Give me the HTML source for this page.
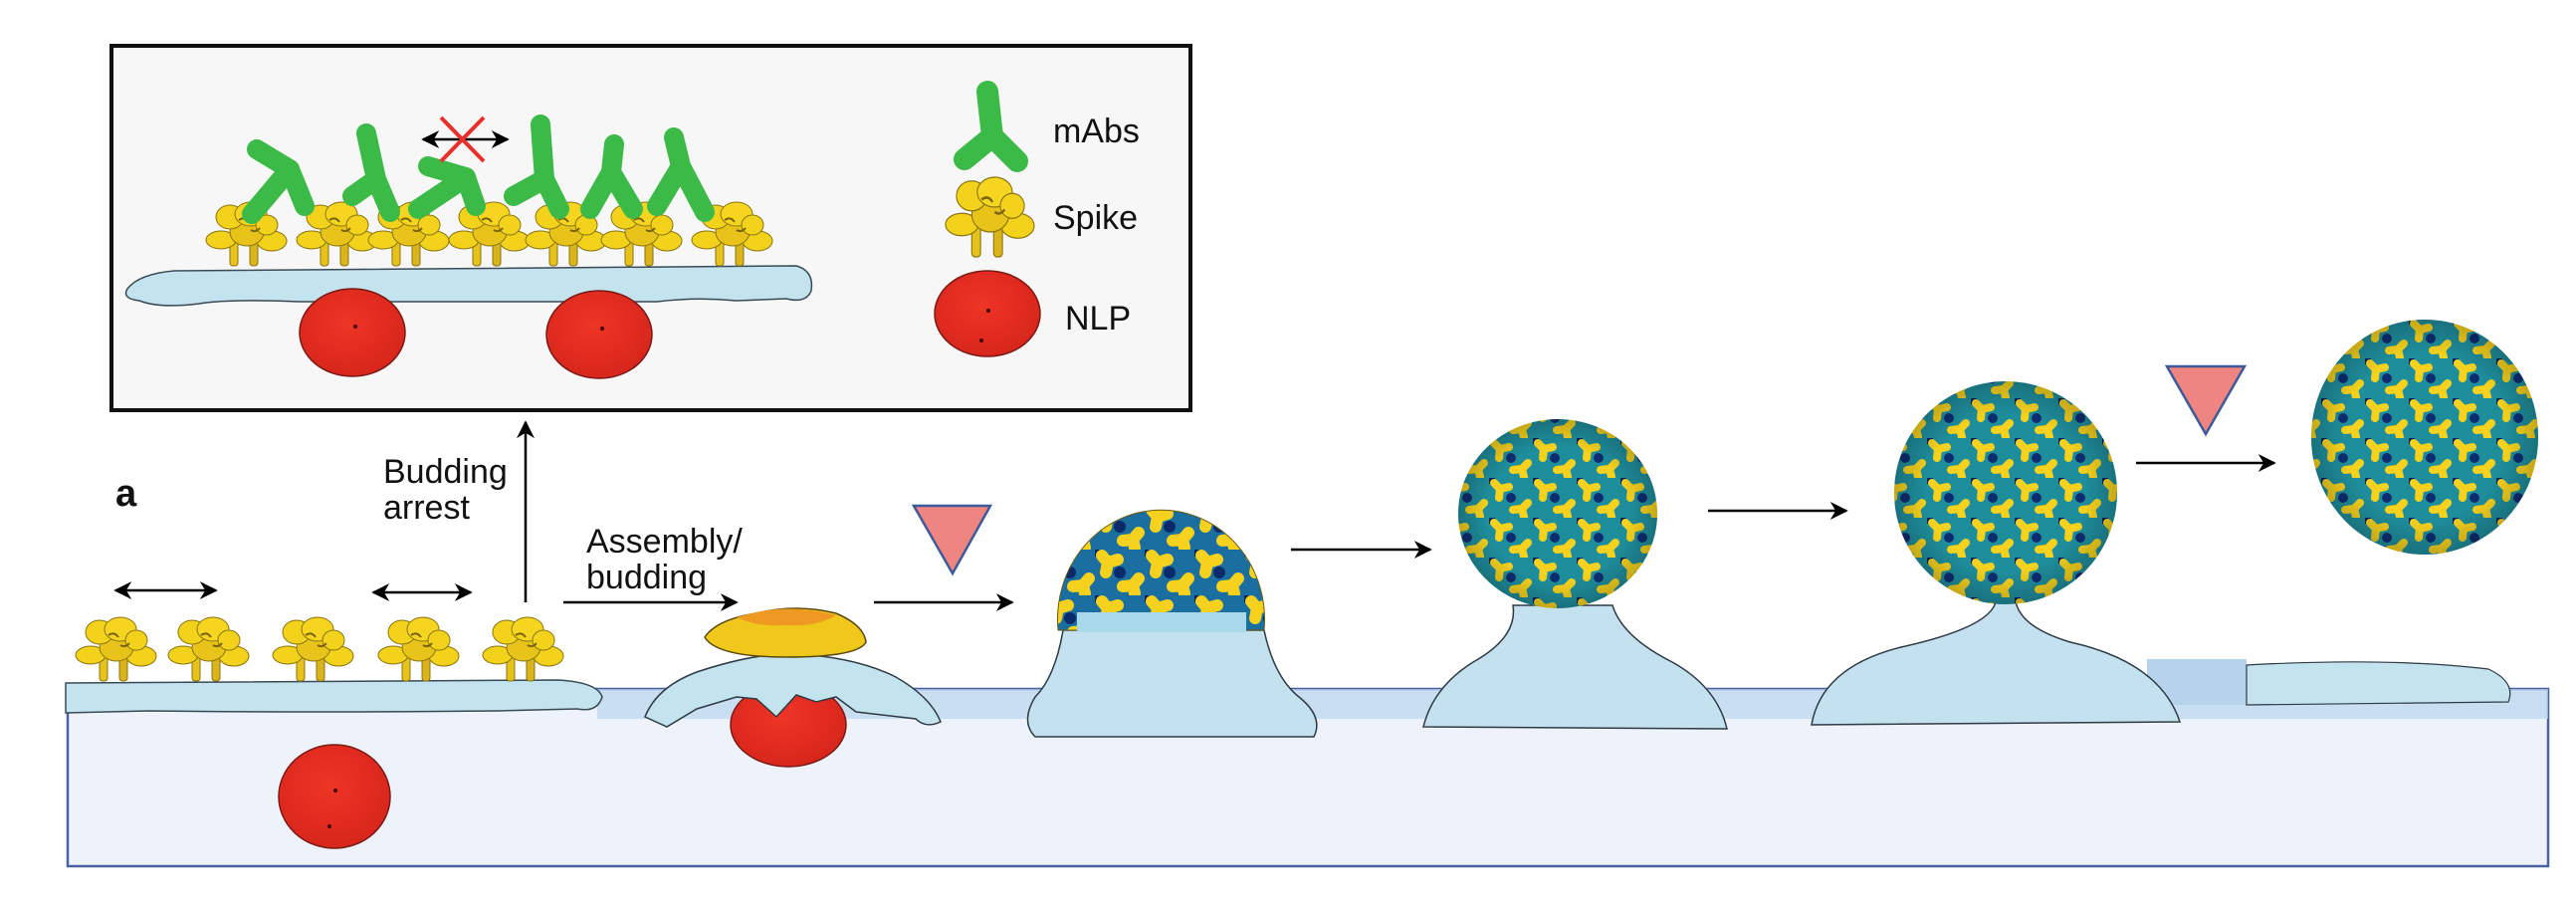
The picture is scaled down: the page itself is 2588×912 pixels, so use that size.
<!DOCTYPE html>
<html><head><meta charset="utf-8"><style>
html,body{margin:0;padding:0;background:#fff;}
svg{display:block;}
text{font-family:"Liberation Sans",Arial,sans-serif;fill:#111;}
</style></head><body>
<svg width="2588" height="912" viewBox="0 0 2588 912" xmlns="http://www.w3.org/2000/svg">
<defs>
  <marker id="ah2" viewBox="0 0 10 10" markerWidth="18" markerHeight="18" refX="9" refY="5" orient="auto-start-reverse" markerUnits="userSpaceOnUse">
    <path d="M0,0 L10,5 L0,10 L3,5 Z" fill="#000"/>
  </marker>
  <g id="spike">
    <rect x="-17" y="-26" width="8" height="26" rx="3" fill="#e6c21a" stroke="#8a7412" stroke-width="1"/>
    <rect x="3" y="-26" width="8" height="26" rx="3" fill="#d9b41a" stroke="#8a7412" stroke-width="1"/>
    <ellipse cx="-26" cy="-26" rx="15" ry="9" fill="#f3d21c" stroke="#8a7412" stroke-width="1"/>
    <ellipse cx="25" cy="-25" rx="15" ry="10" fill="#f3d21c" stroke="#8a7412" stroke-width="1"/>
    <ellipse cx="0" cy="-34" rx="17" ry="14" fill="#e8c41a" stroke="#8a7412" stroke-width="1"/>
    <ellipse cx="-17" cy="-49" rx="14" ry="12" fill="#f3d21c" stroke="#8a7412" stroke-width="1"/>
    <ellipse cx="4" cy="-52" rx="16" ry="12" fill="#f5d520" stroke="#8a7412" stroke-width="1"/>
    <ellipse cx="20" cy="-41" rx="11" ry="10" fill="#f3d21c" stroke="#8a7412" stroke-width="1"/>
    <path d="M-8,-46 q6,-4 10,2 M4,-36 q5,3 9,-2" stroke="#7a6410" stroke-width="2" fill="none"/>
  </g>
  <pattern id="cap" width="44" height="40" patternUnits="userSpaceOnUse">
    <rect width="44" height="40" fill="#1f8e9c"/>
    <circle cx="0" cy="0" r="6" fill="#0b2460"/>
    <circle cx="22" cy="20" r="5" fill="#102d72"/>
    <path d="M11,11 l-6,-6 M11,11 l9,-2 M11,11 l-1,9" stroke="#f6d21e" stroke-width="8" stroke-linecap="round"/>
    <path d="M33,31 l6,-6 M33,31 l-9,1 M33,31 l2,8" stroke="#f6d21e" stroke-width="8" stroke-linecap="round"/>
  </pattern>
  <pattern id="cap2" width="50" height="46" patternUnits="userSpaceOnUse">
    <rect width="50" height="46" fill="#1a6fa0"/>
    <circle cx="0" cy="0" r="7" fill="#0b2460"/>
    <circle cx="25" cy="23" r="6" fill="#0b2a6a"/>
    <path d="M13,13 l-6,-7 M13,13 l10,-3 M13,13 l-2,10" stroke="#f6d21e" stroke-width="12" stroke-linecap="round"/>
    <path d="M38,36 l6,-7 M38,36 l-10,1 M38,36 l2,8" stroke="#f6d21e" stroke-width="12" stroke-linecap="round"/>
  </pattern>
  <radialGradient id="shade" cx="0.5" cy="0.5" r="0.5">
    <stop offset="0.7" stop-color="#000" stop-opacity="0"/>
    <stop offset="1" stop-color="#000" stop-opacity="0.2"/>
  </radialGradient>
  <radialGradient id="red" cx="0.45" cy="0.4" r="0.6">
    <stop offset="0" stop-color="#ee3526"/>
    <stop offset="1" stop-color="#d8261c"/>
  </radialGradient>
</defs>

<rect x="112" y="46" width="1084" height="366" fill="#f7f7f7" stroke="#111" stroke-width="4"/>

<path d="M128,290 Q140,275 175,272 L800,267 Q818,272 815,292 Q810,305 790,300 L740,302 Q700,298 660,303 L300,303 Q230,300 200,305 Q160,310 140,302 Q122,300 128,290 Z" fill="#c3e3ef" stroke="#3a4a55" stroke-width="1.5"/>
<ellipse cx="354" cy="334" rx="53" ry="44" fill="url(#red)" stroke="#7a1a14" stroke-width="1.5"/>
<ellipse cx="602" cy="336" rx="53" ry="44" fill="url(#red)" stroke="#7a1a14" stroke-width="1.5"/>
<circle cx="357" cy="328" r="2" fill="#400"/><circle cx="605" cy="330" r="2" fill="#400"/>

<use href="#spike" x="248" y="267"/>
<use href="#spike" x="339" y="267"/>
<use href="#spike" x="411" y="267"/>
<use href="#spike" x="492" y="267"/>
<use href="#spike" x="569" y="267"/>
<use href="#spike" x="645" y="267"/>
<use href="#spike" x="736" y="267"/>

<g stroke="#3cba47" stroke-width="20" stroke-linecap="round" stroke-linejoin="round" fill="none">
  <polyline points="258,150 291,170 306,207"/><line x1="291" y1="170" x2="253" y2="215"/>
  <polyline points="368,134 378,180 392,213"/><line x1="378" y1="180" x2="354" y2="197"/>
  <polyline points="430,167 468,178 478,207"/><line x1="468" y1="178" x2="420" y2="210"/>
  <polyline points="543,125 547,180 562,210"/><line x1="547" y1="180" x2="516" y2="197"/>
  <polyline points="617,145 614,173 636,210"/><line x1="614" y1="173" x2="593" y2="210"/>
  <polyline points="677,138 684,167 708,213"/><line x1="684" y1="167" x2="660" y2="207"/>
</g>
<line x1="425" y1="140" x2="510" y2="140" stroke="#000" stroke-width="2.5" marker-start="url(#ah2)" marker-end="url(#ah2)"/>
<path d="M443,118 L486,162 M486,118 L443,162" stroke="#e8302a" stroke-width="4"/>

<g stroke="#3cba47" stroke-width="22" stroke-linecap="round" fill="none">
  <polyline points="992,92 997,137 1022,162"/><line x1="997" y1="137" x2="969" y2="160"/>
</g>
<use href="#spike" transform="translate(995,258) scale(1.1,1.25)"/>
<ellipse cx="992" cy="315" rx="53" ry="43" fill="url(#red)" stroke="#7a1a14" stroke-width="1.5"/>
<circle cx="993" cy="312" r="2" fill="#400"/><circle cx="986" cy="342" r="2" fill="#400"/>
<text x="1058" y="143" font-size="34">mAbs</text>
<text x="1058" y="230" font-size="34">Spike</text>
<text x="1070" y="331" font-size="34">NLP</text>

<rect x="68" y="692" width="2492" height="178" fill="#eef2fa" stroke="#4a62a0" stroke-width="2.5"/>
<rect x="600" y="692" width="1960" height="30" fill="#b9d6ec" opacity="0.7"/>
<rect x="2157" y="662" width="100" height="46" fill="#b5d3ea"/>

<path d="M66,686 L560,683 Q600,685 605,700 Q600,716 580,712 L500,714 Q300,716 150,714 L66,716 Z" fill="#c3e3ef" stroke="#3a4a55" stroke-width="1.5"/>
<use href="#spike" x="117" y="684"/>
<use href="#spike" x="210" y="684"/>
<use href="#spike" x="315" y="684"/>
<use href="#spike" x="421" y="684"/>
<use href="#spike" x="526" y="684"/>
<ellipse cx="336" cy="800" rx="56" ry="52" fill="url(#red)" stroke="#7a1a14" stroke-width="1.5"/>
<circle cx="337" cy="794" r="2" fill="#400"/><circle cx="331" cy="830" r="2" fill="#400"/>

<line x1="116" y1="593" x2="217" y2="593" stroke="#000" stroke-width="2.5" marker-start="url(#ah2)" marker-end="url(#ah2)"/>
<line x1="375" y1="595" x2="473" y2="595" stroke="#000" stroke-width="2.5" marker-start="url(#ah2)" marker-end="url(#ah2)"/>
<line x1="528" y1="605" x2="528" y2="424" stroke="#000" stroke-width="2.5" marker-end="url(#ah2)"/>
<line x1="566" y1="605" x2="740" y2="605" stroke="#000" stroke-width="2.5" marker-end="url(#ah2)"/>
<line x1="878" y1="605" x2="1017" y2="605" stroke="#000" stroke-width="2.5" marker-end="url(#ah2)"/>
<line x1="1297" y1="552" x2="1437" y2="552" stroke="#000" stroke-width="2.5" marker-end="url(#ah2)"/>
<line x1="1716" y1="513" x2="1855" y2="513" stroke="#000" stroke-width="2.5" marker-end="url(#ah2)"/>
<line x1="2146" y1="465" x2="2285" y2="465" stroke="#000" stroke-width="2.5" marker-end="url(#ah2)"/>
<polygon points="918,508 995,508 957,576" fill="#ef8580" stroke="#3d5a9a" stroke-width="2.5"/>
<polygon points="2177,368 2255,368 2216,436" fill="#ef8580" stroke="#3d5a9a" stroke-width="2.5"/>

<text x="116" y="508" font-size="38" font-weight="bold">a</text>
<text x="385" y="485" font-size="34">Budding</text>
<text x="385" y="521" font-size="34">arrest</text>
<text x="589" y="555" font-size="34">Assembly/</text>
<text x="589" y="591" font-size="34">budding</text>

<ellipse cx="792" cy="728" rx="58" ry="42" fill="url(#red)" stroke="#7a1a14" stroke-width="1.5"/>
<path d="M648,720 Q660,690 700,675 Q760,655 800,657 Q860,660 900,680 Q935,700 945,725 Q930,732 920,722 L860,715 L840,700 L820,705 L800,698 L780,720 L760,702 L740,700 L700,712 L670,730 Z" fill="#c3e3ef" stroke="#2e3a44" stroke-width="1.5"/>
<path d="M708,640 Q720,622 760,616 Q800,606 840,616 Q868,628 870,645 Q862,660 790,660 Q720,660 708,640 Z" fill="#f0c81c" stroke="#5a4a10" stroke-width="1.5"/>
<path d="M740,620 Q790,604 840,618 Q820,630 790,628 Q760,630 740,620 Z" fill="#ee9a22"/>

<path d="M1068,633 Q1060,680 1040,700 Q1025,725 1040,740 L1320,740 Q1330,720 1305,700 Q1280,680 1270,633 Z" fill="#c3e1ee" stroke="#2e3a44" stroke-width="1.5"/>
<path d="M1063,633 A104,110 0 1 1 1270,633 Z" fill="url(#cap2)" stroke="#6a5a10" stroke-width="1"/>
<rect x="1082" y="615" width="170" height="20" fill="#a9d8ea"/>

<path d="M1520,608 Q1525,640 1480,665 Q1440,690 1430,730 L1735,732 Q1725,690 1680,665 Q1630,640 1620,608 Z" fill="#c3e1ee" stroke="#2e3a44" stroke-width="1.5"/>
<ellipse cx="1565" cy="516" rx="100" ry="95" fill="url(#cap)"/>
<ellipse cx="1565" cy="516" rx="100" ry="95" fill="url(#shade)"/>

<path d="M2005,604 L2025,604 Q2030,630 2080,645 Q2170,665 2190,725 L1820,728 Q1830,670 1910,650 Q2000,630 2005,604 Z" fill="#c3e1ee" stroke="#2e3a44" stroke-width="1.5"/>
<circle cx="2015" cy="495" r="112" fill="url(#cap)"/>
<circle cx="2015" cy="495" r="112" fill="url(#shade)"/>

<path d="M2257,668 Q2400,660 2500,672 Q2528,685 2520,705 L2257,708 Z" fill="#c3e3ef" stroke="#2e3a44" stroke-width="1.2"/>

<ellipse cx="2436" cy="439" rx="114" ry="118" fill="url(#cap)"/>
<ellipse cx="2436" cy="439" rx="114" ry="118" fill="url(#shade)"/>
</svg>
</body></html>
